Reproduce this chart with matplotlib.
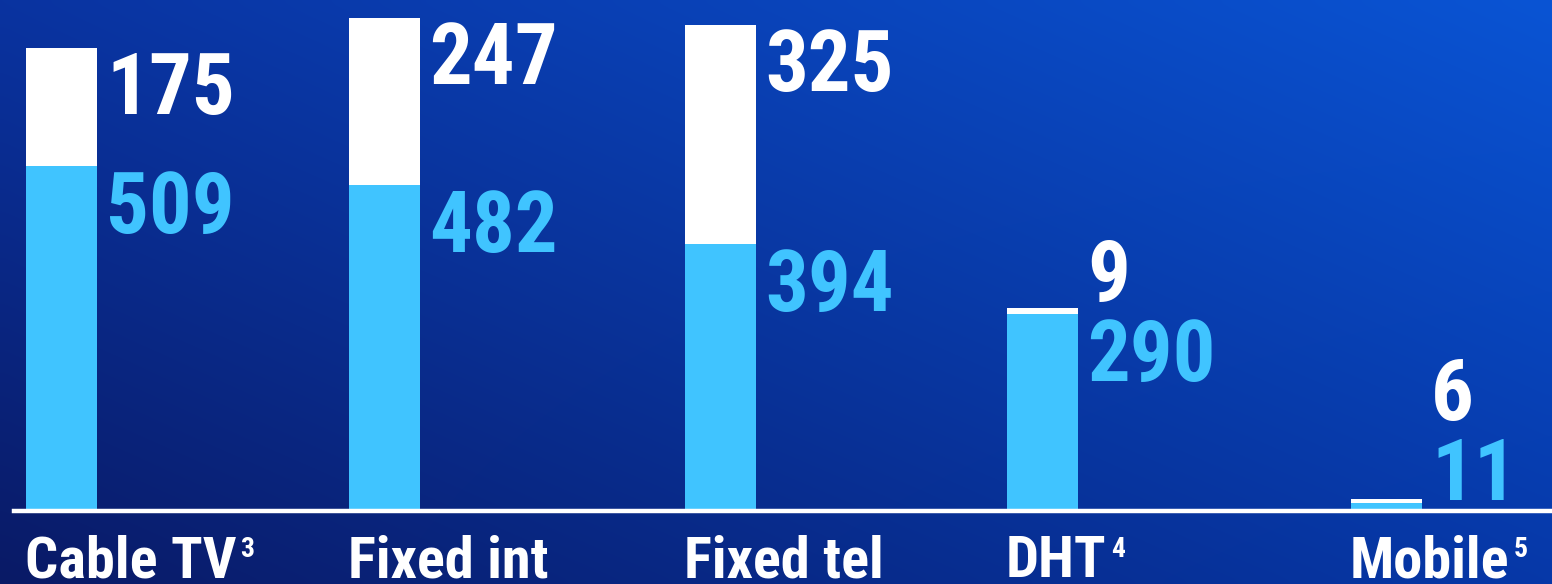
import numpy as np
import matplotlib
matplotlib.use("Agg")
import matplotlib.pyplot as plt
from matplotlib import font_manager
from matplotlib.colors import to_rgb

# data
categories = ["Cable TV", "Fixed int", "Fixed tel", "DHT", "Mobile"]
footnotes = ["3", "", "", "4", "5"]
lower_vals = [509, 482, 394, 290, 11]   # light blue segment
upper_vals = [175, 247, 325, 9, 6]      # white segment

# layout (pixels at dpi 100)
W, H = 1552, 584
bar_left = [26, 349, 685, 1007, 1351]
bar_w = 71
base_px = 74            # baseline distance from bottom
px_per_unit = 0.675

BLUE = "#40c4ff"

# pick a narrow font if one is installed
installed = {f.name: f for f in font_manager.fontManager.ttflist}
narrow = [f.name for f in font_manager.fontManager.ttflist
          if "Narrow" in f.name or "Condensed" in f.name]
STRETCH = "normal"
if "Roboto Condensed" in installed:
    FONT = ["Roboto Condensed", "DejaVu Sans"]
elif "Liberation Sans Narrow" in installed:
    FONT = ["Liberation Sans Narrow", "DejaVu Sans"]
elif narrow:
    FONT = [narrow[0], "DejaVu Sans"]
else:
    FONT = ["DejaVu Sans"]
    STRETCH = "condensed"

fig = plt.figure(figsize=(W / 100, H / 100), dpi=100)

# background gradient from four corner colours
bg = fig.add_axes([0, 0, 1, 1])
tl, tr = np.array(to_rgb("#0a33a0")), np.array(to_rgb("#0a54d4"))
bl, br = np.array(to_rgb("#0a1a66")), np.array(to_rgb("#0638a8"))
u = np.linspace(0, 1, 200)[None, :, None]
v = np.linspace(0, 1, 80)[:, None, None]
grad = (1 - v) * ((1 - u) * tl + u * tr) + v * ((1 - u) * bl + u * br)
bg.imshow(grad, aspect="auto", extent=[0, 1, 0, 1], interpolation="bicubic")
bg.axis("off")

# chart axes: x in pixels, y in data units
ax = fig.add_axes([0, base_px / H, 1, 1 - base_px / H])
ax.set_xlim(0, W)
ax.set_ylim(0, (H - base_px) / px_per_unit)
ax.axis("off")
ax.patch.set_visible(False)

centers = [l + bar_w / 2 for l in bar_left]
ax.bar(centers, lower_vals, width=bar_w, color=BLUE, linewidth=0)
ax.bar(centers, upper_vals, bottom=lower_vals, width=bar_w, color="white", linewidth=0)

# baseline
fig.add_artist(plt.Line2D([14 / W, 1], [(base_px - 0.5) / H] * 2, color="white", lw=3.2))

num_kw = dict(fontsize=61, fontweight="bold", family=FONT, fontstretch=STRETCH,
              textcoords="offset pixels")
label_h = 63  # digit height in px
for i in range(len(categories)):
    x = bar_left[i] + bar_w + 9
    lo, up = lower_vals[i], upper_vals[i]
    lo_px = lo * px_per_unit
    # light blue value
    if lo_px > label_h + 12:
        lo_top = lo_px - 4
    else:
        lo_top = label_h + 10
    ax.annotate(str(lo), (x, 0), xytext=(0, lo_top - label_h), va="baseline",
                color=BLUE, **num_kw)
    # white value
    tot_px = (lo + up) * px_per_unit
    if up * px_per_unit > label_h + 12:
        up_base = tot_px - 3 - label_h
    else:
        up_base = max(lo_top + 17, tot_px - 3 - label_h)
    ax.annotate(str(up), (x, 0), xytext=(0, up_base), va="baseline",
                color="white", **num_kw)

# category labels with superscript footnotes
fig.canvas.draw()
r = fig.canvas.get_renderer()
for i, name in enumerate(categories):
    t = fig.text((bar_left[i] - 1) / W, 7 / H, name, fontsize=42, fontweight="bold",
                 family=FONT, fontstretch=STRETCH, color="white", va="baseline")
    if footnotes[i]:
        bb = t.get_window_extent(r)
        fig.text((bb.x1 + 4) / W, 27 / H, footnotes[i], fontsize=20,
                 fontweight="bold", family=FONT, fontstretch=STRETCH,
                 color="white", va="baseline")

fig.savefig("out.png", dpi=100)
